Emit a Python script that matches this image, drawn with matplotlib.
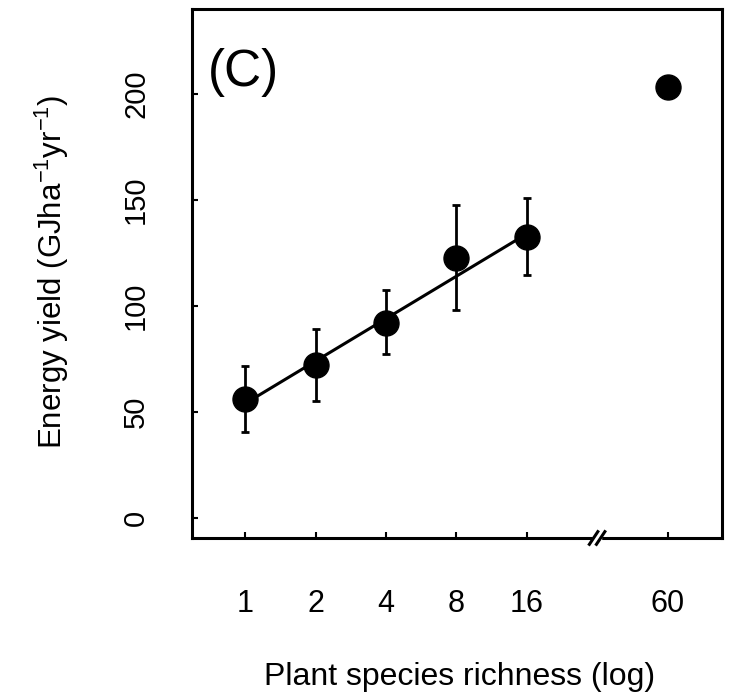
"""Energy yield vs plant species richness (C)"""

import numpy as np
import matplotlib
matplotlib.use("Agg")
import matplotlib.pyplot as plt
import matplotlib.transforms as mtrans


plt.rcParams['font.family'] = ['Liberation Sans', 'DejaVu Sans']
plt.rcParams['mathtext.default'] = 'regular'


# データ
richness_labels = ['1', '2', '4', '8', '16', '60']
richness_pos = [0, 1, 2, 3, 4, 6]   # 対数軸上の位置 (60 は軸の切れ目の後)
yield_mean = [56, 72, 92, 122.5, 132.5, 203]
yield_err_low = [15.5, 17, 14.5, 24.5, 18, 0]
yield_err_high = [15.5, 17, 15.5, 25, 18.5, 0]
fit_pos = [0, 4]
fit_y = [54, 134]
break_pos = 5
y_ticks = [0, 50, 100, 150, 200]


fig = plt.figure(figsize=(7.31, 6.94), dpi=100)
ax = fig.add_axes([0.2622, 0.2248, 0.7251, 0.7622])

# 回帰直線
ax.plot(fit_pos, fit_y, '-', color='black', lw=2.2, zorder=2)

# 平均値 ± エラーバー (1-16)
ax.errorbar(richness_pos[:5], yield_mean[:5],
            yerr=[yield_err_low[:5], yield_err_high[:5]],
            fmt='o', color='black', ms=18, elinewidth=2.0,
            capsize=3, capthick=2.0, zorder=3)
# 60 種
ax.plot(richness_pos[5], yield_mean[5], 'o', color='black', ms=18, zorder=3)

ax.set_xlim(-0.76, 6.77)
ax.set_ylim(-9.4, 240)

ax.set_xticks(richness_pos)
ax.set_xticklabels(richness_labels)
ax.set_yticks(y_ticks)
ax.set_yticklabels([str(v) for v in y_ticks], rotation=90, va='center')

ax.tick_params(axis='x', direction='in', length=4, width=1.5, pad=37, labelsize=22)
ax.tick_params(axis='y', direction='in', length=4, width=1.5, pad=30, labelsize=21)

for s in ax.spines.values():
    s.set_linewidth(2.2)

# 軸の切れ目 //
trans = mtrans.blended_transform_factory(ax.transData, ax.transAxes)
ax.add_patch(plt.Rectangle((break_pos - 0.06, -0.01), 0.12, 0.02,
                           transform=trans, color='white', clip_on=False, zorder=5))
for dx in (-0.05, 0.05):
    ax.plot([break_pos + dx - 0.06, break_pos + dx + 0.06], [-0.012, 0.012],
            '-', color='black', lw=2.2, transform=trans, clip_on=False, zorder=6)

ax.text(0.03, 0.88, '(C)', transform=ax.transAxes, fontsize=37, va='center', ha='left')

fig.text(52 / 731, 1 - 272 / 694, 'Energy yield (GJha$^{-1}$yr$^{-1}$)',
         rotation=90, ha='center', va='center', fontsize=22.5)
fig.text(460 / 731, 1 - 677 / 694, 'Plant species richness (log)',
         ha='center', va='center', fontsize=23)

fig.savefig('out.png', dpi=100)
